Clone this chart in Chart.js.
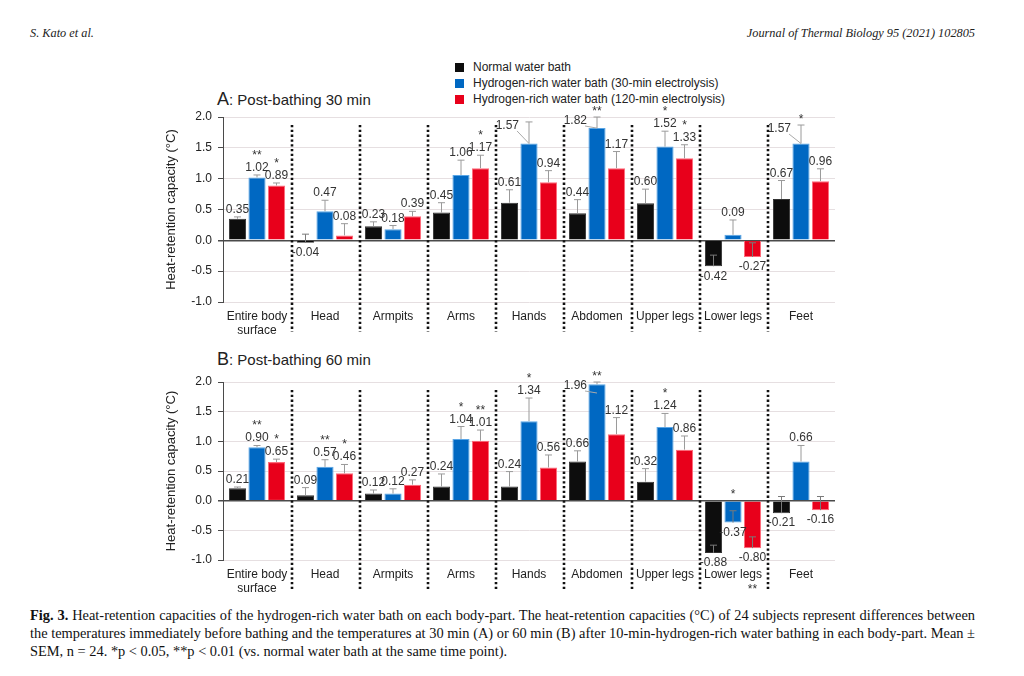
<!DOCTYPE html>
<html>
<head>
<meta charset="utf-8">
<script src="https://cdn.jsdelivr.net/npm/chart.js@4.4.1/dist/chart.umd.min.js"></script>
<style>
  body { margin: 0; background: #fff; width: 1024px; height: 676px; position: relative; overflow: hidden; }
  .hdr { position: absolute; top: 26px; font: italic 12.3px "Liberation Serif", serif; color: #222; }
  .legend { position: absolute; left: 455px; top: 59px; font: 12px "Liberation Sans", Arial, sans-serif; color: #222; }
  .legend div { height: 16px; line-height: 16px; white-space: nowrap; }
  .legend span { display: inline-block; width: 9px; height: 9px; margin-right: 9px; vertical-align: -1px; }
  .ptitle { position: absolute; left: 217px; font: 15px "Liberation Sans", Arial, sans-serif; color: #222; }
  .ptitle b { font-weight: normal; font-size: 18px; }
  .wrap { position: absolute; left: 160px; }
  .caption { position: absolute; left: 30px; top: 606px; width: 945px; font: 14.4px "Liberation Serif", serif; color: #111; }
  .caption div { height: 18px; line-height: 18px; white-space: nowrap; }
  .caption .j { text-align: justify; text-align-last: justify; }
</style>
</head>
<body>
<div class="hdr" style="left:30px">S. Kato et al.</div>
<div class="hdr" style="right:49px">Journal of Thermal Biology 95 (2021) 102805</div>

<div class="legend" id="legend"></div>

<div class="ptitle" style="top:89px"><b>A</b>: Post-bathing 30 min</div>
<div class="wrap" style="top:100px"><canvas id="chartA" width="700" height="243"></canvas></div>

<div class="ptitle" style="top:349px"><b>B</b>: Post-bathing 60 min</div>
<div class="wrap" style="top:365px"><canvas id="chartB" width="700" height="236"></canvas></div>

<div class="caption">
  <div class="j"><b>Fig. 3.</b> Heat-retention capacities of the hydrogen-rich water bath on each body-part. The heat-retention capacities (°C) of 24 subjects represent differences between</div>
  <div class="j">the temperatures immediately before bathing and the temperatures at 30 min (A) or 60 min (B) after 10-min-hydrogen-rich water bathing in each body-part. Mean ±</div>
  <div>SEM, n = 24. *p &lt; 0.05, **p &lt; 0.01 (vs. normal water bath at the same time point).</div>
</div>

<script>
// body parts on the x axis
const categories = [['Entire body', 'surface'], 'Head', 'Armpits', 'Arms', 'Hands', 'Abdomen', 'Upper legs', 'Lower legs', 'Feet'];
const seriesNames = ['Normal water bath', 'Hydrogen-rich water bath (30-min electrolysis)', 'Hydrogen-rich water bath (120-min electrolysis)'];
const seriesColors = ['#0d0d0d', '#0068c2', '#e8001b'];
const seriesBorders = ['#333333', '#5aa6e6', '#ff6a7a'];
const yTicks = [-1.0, -0.5, 0.0, 0.5, 1.0, 1.5, 2.0];

// A: post-bathing 30 min (mean, SEM)
const a30Normal = [0.35, -0.04, 0.23, 0.45, 0.61, 0.44, 0.60, -0.42, 0.67];
const a30Elec30 = [1.02, 0.47, 0.18, 1.06, 1.57, 1.82, 1.52, 0.09, 1.57];
const a30Elec120 = [0.89, 0.08, 0.39, 1.17, 0.94, 1.17, 1.33, -0.27, 0.96];
const a30NormalErr = [0.03, 0.14, 0.07, 0.16, 0.21, 0.22, 0.23, 0.18, 0.30];
const a30Elec30Err = [0.04, 0.18, 0.06, 0.24, 0.35, 0.18, 0.25, 0.24, 0.30];
const a30Elec120Err = [0.04, 0.19, 0.08, 0.21, 0.19, 0.27, 0.22, 0.23, 0.20];
const a30Elec30Sig = ['**', '', '', '', '', '**', '*', '', '*'];
const a30Elec120Sig = ['*', '', '', '*', '', '', '*', '', ''];

// B: post-bathing 60 min (mean, SEM)
const b60Normal = [0.21, 0.09, 0.12, 0.24, 0.24, 0.66, 0.32, -0.88, -0.21];
const b60Elec30 = [0.90, 0.57, 0.12, 1.04, 1.34, 1.96, 1.24, -0.37, 0.66];
const b60Elec120 = [0.65, 0.46, 0.27, 1.01, 0.56, 1.12, 0.86, -0.80, -0.16];
const b60NormalErr = [0.02, 0.13, 0.06, 0.21, 0.25, 0.18, 0.22, 0.13, 0.28];
const b60Elec30Err = [0.03, 0.12, 0.08, 0.21, 0.39, 0.04, 0.23, 0.20, 0.27];
const b60Elec120Err = [0.05, 0.15, 0.08, 0.18, 0.21, 0.28, 0.23, 0.19, 0.23];
const b60Elec30Sig = ['**', '**', '', '*', '*', '**', '*', '*', ''];
const b60Elec120Sig = ['*', '*', '', '**', '', '', '', '**', ''];

const FONT = '"Liberation Sans", Arial, sans-serif';

document.getElementById('legend').innerHTML = seriesNames
    .map((name, i) => `<div><span style="background:${seriesColors[i]}"></span>${name}</div>`)
    .join('');

// error bars (plus direction only), value labels and significance stars
const barExtras = {
    id: 'barExtras',
    afterDatasetsDraw(chart) {
        const { ctx, chartArea } = chart;
        const y = chart.scales.y;
        ctx.save();
        chart.data.datasets.forEach((ds, di) => {
            const meta = chart.getDatasetMeta(di);
            meta.data.forEach((bar, i) => {
                const v = ds.data[i];
                const err = ds.errors[i];
                const yv = y.getPixelForValue(v);
                const yt = y.getPixelForValue(v + err);
                ctx.strokeStyle = v < 0 ? '#7a7a7a' : '#9a9a9a';
                ctx.lineWidth = 1;
                ctx.beginPath();
                ctx.moveTo(bar.x, yv);
                ctx.lineTo(bar.x, yt);
                ctx.moveTo(bar.x - 3.5, yt);
                ctx.lineTo(bar.x + 3.5, yt);
                ctx.stroke();

                ctx.fillStyle = '#333';
                ctx.font = '12px ' + FONT;
                ctx.textAlign = 'center';
                const sig = ds.sig ? ds.sig[i] : '';
                const txt = v.toFixed(2);
                if (v >= 0) {
                    ctx.textBaseline = 'alphabetic';
                    const base = yt - 4;
                    if (base - 9 < chartArea.top) {
                        // no room above the error bar: label goes to the left
                        const lx = bar.x - 10;
                        const ly = yt + 7;
                        ctx.textAlign = 'right';
                        ctx.fillText(txt, lx, ly);
                        ctx.strokeStyle = '#aaa';
                        ctx.beginPath();
                        ctx.moveTo(lx - 2, ly + 2);
                        ctx.lineTo(bar.x, Math.max(yv, ly + 4));
                        ctx.stroke();
                        ctx.textAlign = 'center';
                        if (sig) ctx.fillText(sig, bar.x, yt - 2);
                    } else {
                        ctx.fillText(txt, bar.x, base);
                        if (sig) ctx.fillText(sig, bar.x, base - 12);
                    }
                } else {
                    ctx.textBaseline = 'top';
                    ctx.fillText(txt, bar.x, yv + 4);
                    if (sig) {
                        if (v < -0.5) ctx.fillText(sig, bar.x, yv + 36);
                        else {
                            ctx.textBaseline = 'alphabetic';
                            ctx.fillText(sig, bar.x, y.getPixelForValue(0) - 3);
                        }
                    }
                }
            });
        });
        ctx.restore();
    }
};

// dotted separators between body parts
const separators = {
    id: 'separators',
    afterDraw(chart) {
        const { ctx, chartArea } = chart;
        const n = chart.data.labels.length;
        const w = (chartArea.right - chartArea.left) / n;
        ctx.save();
        ctx.strokeStyle = '#111';
        ctx.lineWidth = 2.6;
        ctx.setLineDash([2.3, 2.5]);
        for (let i = 1; i < n; i++) {
            const x = Math.round(chartArea.left + i * w) + 1;
            ctx.beginPath();
            ctx.moveTo(x, chartArea.top + 8);
            ctx.lineTo(x, chartArea.bottom + 30);
            ctx.stroke();
        }
        ctx.restore();
    }
};

function makeChart(id, values, errors, sigs) {
    const ctx = document.getElementById(id).getContext('2d');
    return new Chart(ctx, {
        type: 'bar',
        data: {
            labels: categories,
            datasets: values.map((vals, i) => ({
                label: seriesNames[i],
                data: vals,
                errors: errors[i],
                sig: sigs[i],
                backgroundColor: seriesColors[i],
                borderColor: seriesBorders[i],
                borderWidth: 1,
                categoryPercentage: 0.86,
                barPercentage: 0.88
            }))
        },
        options: {
            responsive: false,
            animation: false,
            devicePixelRatio: 1,
            layout: { padding: { top: 17, right: 25, bottom: 0, left: 0 } },
            plugins: { legend: { display: false }, tooltip: { enabled: false } },
            scales: {
                x: {
                    grid: { display: false, drawTicks: false },
                    border: { display: false },
                    ticks: { color: '#222', font: { family: FONT, size: 12 }, padding: 7, maxRotation: 0, autoSkip: false },
                    afterFit: s => { s.height = 41; }
                },
                y: {
                    min: -1, max: 2,
                    afterBuildTicks: s => { s.ticks = yTicks.map(v => ({ value: v })); },
                    grid: {
                        color: c => c.tick && c.tick.value === 0 ? '#4a4a4a' : '#e6dfe1',
                        lineWidth: c => c.tick && c.tick.value === 0 ? 1.5 : 1,
                        tickColor: '#4a4a4a',
                        tickLength: 5
                    },
                    border: { display: true, color: '#4a4a4a', width: 1 },
                    ticks: { color: '#222', font: { family: FONT, size: 12 }, padding: 6, callback: v => v.toFixed(1) },
                    title: { display: true, text: 'Heat-retention capacity (°C)', color: '#222', font: { family: FONT, size: 13 } },
                    afterFit: s => { s.width = 63; }
                }
            }
        },
        plugins: [barExtras, separators]
    });
}

makeChart('chartA',
    [a30Normal, a30Elec30, a30Elec120],
    [a30NormalErr, a30Elec30Err, a30Elec120Err],
    [null, a30Elec30Sig, a30Elec120Sig]);

makeChart('chartB',
    [b60Normal, b60Elec30, b60Elec120],
    [b60NormalErr, b60Elec30Err, b60Elec120Err],
    [null, b60Elec30Sig, b60Elec120Sig]);
</script>
</body>
</html>
